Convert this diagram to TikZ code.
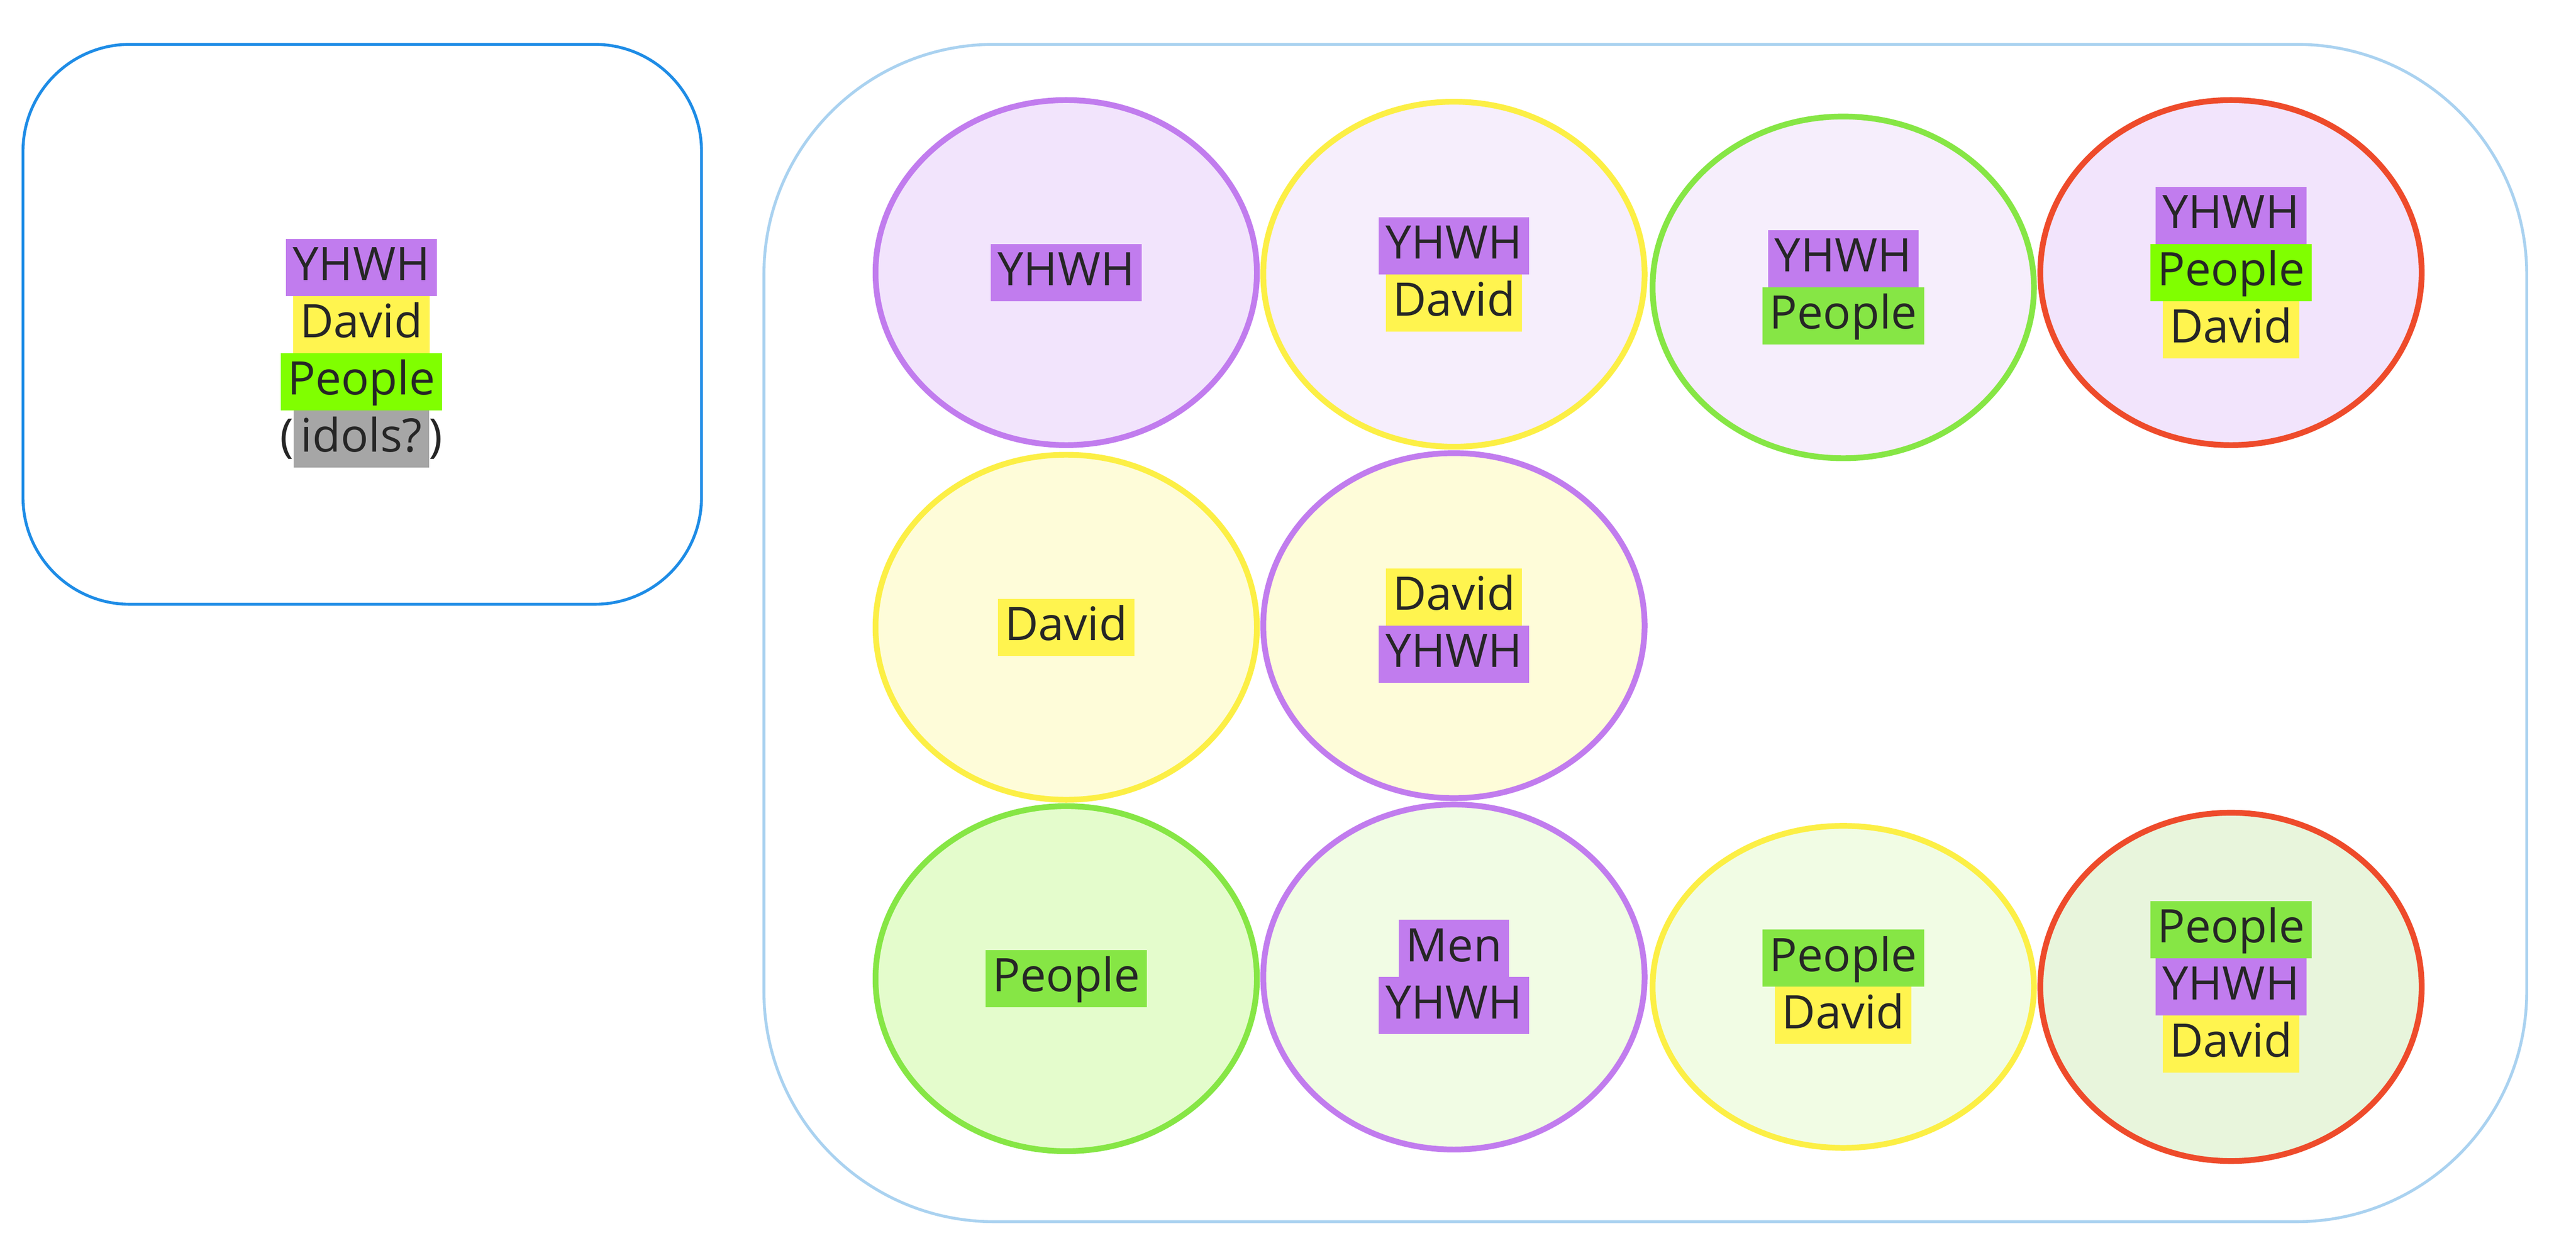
\documentclass[tikz,border=0pt]{standalone}
\usepackage{fontspec}
\setmainfont{Open Sans}
\usetikzlibrary{shapes.geometric}
\definecolor{hp}{HTML}{C17CEE}
\definecolor{hy}{HTML}{FFF44F}
\definecolor{hg}{HTML}{86E645}
\definecolor{hl}{HTML}{80FF00}
\definecolor{hgr}{HTML}{A6A6A6}
\definecolor{bp}{HTML}{C17CEE}
\definecolor{by}{HTML}{FCEF45}
\definecolor{bg}{HTML}{86E645}
\definecolor{br}{HTML}{EE4B2B}
\definecolor{fpa}{HTML}{F2E4FC}
\definecolor{fpb}{HTML}{F6EEFC}
\definecolor{fya}{HTML}{FEFCD9}
\definecolor{fga}{HTML}{E4FCCC}
\definecolor{fgb}{HTML}{F1FCE4}
\definecolor{fgc}{HTML}{E8F5DC}
\definecolor{boxa}{HTML}{1E8CE6}
\definecolor{boxb}{HTML}{AAD2F0}
\newcommand{\hlx}[2]{\setlength{\fboxsep}{0pt}\colorbox{#1}{\rule[-2.7pt]{0pt}{9.9pt}\hspace{1.2pt}#2\hspace{1.2pt}}}
\tikzset{
 ell/.style={ellipse,minimum width=2.32cm,minimum height=2.1cm,line width=1pt},
 txt/.style={align=center,font=\fontsize{8}{9.9}\selectfont,text=black!85,inner sep=0pt},
}
\begin{document}
\begin{tikzpicture}[x=0.01cm,y=-0.01cm]
\useasboundingbox (0,0) rectangle (1568,766);
\draw[draw=boxa,line width=0.5pt,rounded corners=0.65cm] (14,27) rectangle (427,368);
\node[txt] (lt) at (220,215) {\hlx{hp}{YHWH}\\\hlx{hy}{David}\\\hlx{hl}{People}\\(\hlx{hgr}{idols?})};
\draw[draw=boxb,line width=0.5pt,rounded corners=1.4cm] (465,27) rectangle (1538,744);
\node[ell,draw=bp,fill=fpa] (e1) at (649,166) {};
\node[txt] (t1) at (e1) {\hlx{hp}{YHWH}};
\node[ell,draw=by,fill=fpb] (e2) at (885,167) {};
\node[txt] (t2) at (e2) {\hlx{hp}{YHWH}\\\hlx{hy}{David}};
\node[ell,draw=bg,fill=fpb,minimum height=2.08cm] (e3) at (1122,175) {};
\node[txt] (t3) at (e3) {\hlx{hp}{YHWH}\\\hlx{hg}{People}};
\node[ell,draw=br,fill=fpa] (e4) at (1358,166) {};
\node[txt] (t4) at (e4) {\hlx{hp}{YHWH}\\\hlx{hl}{People}\\\hlx{hy}{David}};
\node[ell,draw=by,fill=fya] (e5) at (649,382) {};
\node[txt] (t5) at (e5) {\hlx{hy}{David}};
\node[ell,draw=bp,fill=fya] (e6) at (885,381) {};
\node[txt] (t6) at (e6) {\hlx{hy}{David}\\\hlx{hp}{YHWH}};
\node[ell,draw=bg,fill=fga] (e7) at (649,596) {};
\node[txt] (t7) at (e7) {\hlx{hg}{People}};
\node[ell,draw=bp,fill=fgb] (e8) at (885,595) {};
\node[txt] (t8) at (e8) {\hlx{hp}{Men}\\\hlx{hp}{YHWH}};
\node[ell,draw=by,fill=fgb,minimum height=1.96cm] (e9) at (1122,601) {};
\node[txt] (t9) at (e9) {\hlx{hg}{People}\\\hlx{hy}{David}};
\node[ell,draw=br,fill=fgc,minimum height=2.12cm] (e10) at (1358,601) {};
\node[txt] (t10) at (e10) {\hlx{hg}{People}\\\hlx{hp}{YHWH}\\\hlx{hy}{David}};
\end{tikzpicture}
\end{document}
